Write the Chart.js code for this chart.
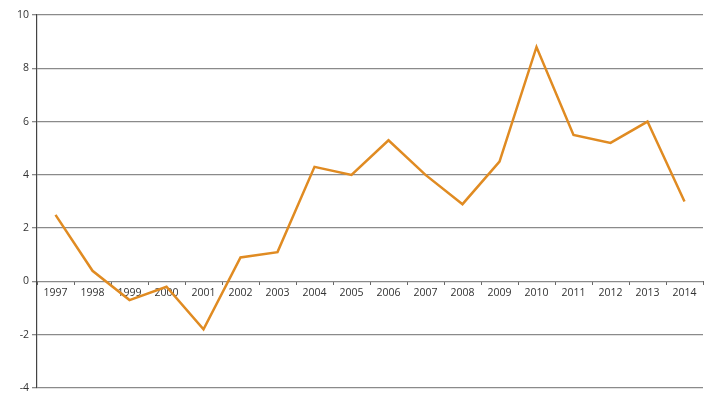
<!DOCTYPE html>
<html>
<head>
<meta charset="utf-8">
<script src="https://cdn.jsdelivr.net/npm/chart.js@4"></script>
<style>
  html, body { margin: 0; padding: 0; background: #fff; }
  #wrap { width: 719px; height: 404px; }
</style>
</head>
<body>
<div id="wrap"><canvas id="myChart"></canvas></div>
<script>
const years = ['1997', '1998', '1999', '2000', '2001', '2002', '2003', '2004', '2005',
    '2006', '2007', '2008', '2009', '2010', '2011', '2012', '2013', '2014'];
const values = [2.5, 0.4, -0.7, -0.2, -1.8, 0.9, 1.1, 4.3, 4.0,
    5.3, 4.0, 2.9, 4.5, 8.8, 5.5, 5.2, 6.0, 3.0];
const yMin = -4;
const yMax = 10;
const yStep = 2;

const ctx = document.getElementById('myChart');

new Chart(ctx, {
    type: 'line',
    data: {
        labels: years,
        datasets: [{
            data: values,
            borderColor: '#E08B22',
            borderWidth: 2.5,
            pointRadius: 0,
            tension: 0,
            fill: false
        }]
    },
    options: {
        responsive: true,
        maintainAspectRatio: false,
        animation: false,
        layout: {
            padding: { top: 15, right: 16, bottom: 16, left: 14 }
        },
        plugins: {
            legend: { display: false },
            tooltip: { enabled: false }
        },
        scales: {
            x: {
                position: { y: 0 },
                offset: true,
                grid: {
                    offset: true,
                    drawOnChartArea: false,
                    tickLength: 4,
                    color: '#666',
                    lineWidth: 1
                },
                border: { display: false },
                ticks: {
                    color: '#333',
                    padding: 1,
                    maxRotation: 0,
                    autoSkip: false,
                    font: { family: 'Open Sans', size: 10.5 }
                }
            },
            y: {
                min: yMin,
                max: yMax,
                ticks: {
                    stepSize: yStep,
                    color: '#333',
                    padding: 3,
                    font: { family: 'Open Sans', size: 10.5 }
                },
                grid: {
                    color: '#8a8a8a',
                    lineWidth: 1.3,
                    tickLength: 5
                },
                border: { color: '#444', width: 1.2 }
            }
        }
    }
});
</script>
</body>
</html>
